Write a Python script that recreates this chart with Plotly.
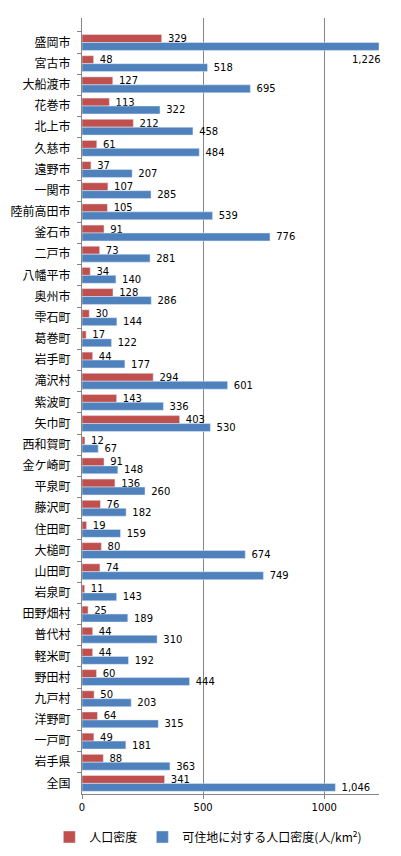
import plotly.graph_objects as go

categories = ["盛岡市", "宮古市", "大船渡市", "花巻市", "北上市", "久慈市", "遠野市", "一関市",
              "陸前高田市", "釜石市", "二戸市", "八幡平市", "奥州市", "雫石町", "葛巻町", "岩手町",
              "滝沢村", "紫波町", "矢巾町", "西和賀町", "金ケ崎町", "平泉町", "藤沢町", "住田町",
              "大槌町", "山田町", "岩泉町", "田野畑村", "普代村", "軽米町", "野田村", "九戸村",
              "洋野町", "一戸町", "岩手県", "全国"]
density = [329, 48, 127, 113, 212, 61, 37, 107, 105, 91, 73, 34, 128, 30, 17, 44,
           294, 143, 403, 12, 91, 136, 76, 19, 80, 74, 11, 25, 44, 44, 60, 50,
           64, 49, 88, 341]
habitable_density = [1226, 518, 695, 322, 458, 484, 207, 285, 539, 776, 281, 140, 286, 144, 122, 177,
                     601, 336, 530, 67, 148, 260, 182, 159, 674, 749, 143, 189, 310, 192, 444, 203,
                     315, 181, 363, 1046]
series_names = ["人口密度", "可住地に対する人口密度(人/km<sup>2</sup>)"]
x_max = 1226
x_ticks = [0, 500, 1000]

RED = "#C0504D"
BLUE = "#4F81BD"
CJK = "Noto Sans CJK JP"
NUM = "DejaVu Sans"

def fmt(v):
    return f"{v:,}"

red_text = [" " + fmt(v) for v in density]
blue_text = [" " + fmt(v) if v < x_max else "" for v in habitable_density]

fig = go.Figure()
fig.add_trace(go.Bar(y=categories, x=density, orientation="h", name=series_names[0],
                     marker_color=RED, text=red_text, textposition="outside", constraintext="none",
                     textfont=dict(family=NUM, size=10, color="#000000"), cliponaxis=False))
fig.add_trace(go.Bar(y=categories, x=habitable_density, orientation="h", name=series_names[1],
                     marker_color=BLUE, text=blue_text, textposition="outside", constraintext="none",
                     textfont=dict(family=NUM, size=10, color="#000000"), cliponaxis=False))

for c, v in zip(categories, habitable_density):
    if v >= x_max:
        fig.add_annotation(x=v, y=c, text=fmt(v), showarrow=False, xanchor="right",
                           xshift=4, yshift=-17, font=dict(family=NUM, size=10, color="#000000"))

fig.update_layout(
    width=385, height=840,
    margin=dict(l=74, r=14, t=10, b=54, autoexpand=False),
    barmode="group", bargap=0.25, bargroupgap=0,
    plot_bgcolor="white", paper_bgcolor="white",
    showlegend=True,
    legend=dict(orientation="h", xref="paper", yref="paper", x=-0.11, xanchor="left",
                y=-0.0554, yanchor="middle", font=dict(family=CJK, size=12, color="#000000"),
                itemwidth=30, traceorder="normal"),
)
fig.update_xaxes(range=[0, x_max], tickvals=x_ticks, ticktext=[str(t) for t in x_ticks],
                 showgrid=True, gridcolor="#868686", gridwidth=1, zeroline=False, automargin=False,
                 showline=True, linecolor="#868686", ticks="outside", ticklen=4, tickcolor="#868686",
                 tickfont=dict(family=NUM, size=10, color="#000000"))
fig.update_yaxes(autorange="reversed", showline=True, linecolor="#868686", ticks="outside",
                 tickson="boundaries", ticklen=4, tickcolor="#868686", showgrid=False, automargin=False,
                 tickfont=dict(family=CJK, size=12, color="#000000"), ticklabelstandoff=8)

fig.write_html("out.html")
